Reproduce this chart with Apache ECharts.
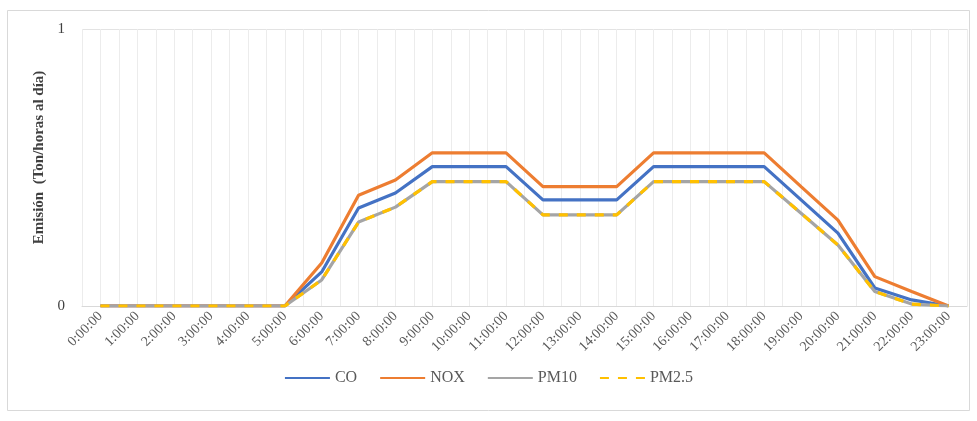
<!DOCTYPE html>
<html><head><meta charset="utf-8">
<script src="https://cdn.jsdelivr.net/npm/echarts@6/dist/echarts.min.js"></script>
<style>html,body{margin:0;padding:0;background:#fff}#c{width:977px;height:421px}</style>
</head><body><div id="c"></div>
<script>
var categories = ['0:00:00','1:00:00','2:00:00','3:00:00','4:00:00','5:00:00','6:00:00','7:00:00','8:00:00','9:00:00','10:00:00','11:00:00','12:00:00','13:00:00','14:00:00','15:00:00','16:00:00','17:00:00','18:00:00','19:00:00','20:00:00','21:00:00','22:00:00','23:00:00'];
var co   = [0,0,0,0,0,0,0.123,0.354,0.408,0.503,0.503,0.503,0.383,0.383,0.383,0.503,0.503,0.503,0.503,0.383,0.263,0.065,0.022,0];
var nox  = [0,0,0,0,0,0,0.155,0.400,0.455,0.553,0.553,0.553,0.431,0.431,0.431,0.553,0.553,0.553,0.553,0.431,0.310,0.106,0.052,0];
var pm10 = [0,0,0,0,0,0,0.094,0.303,0.357,0.449,0.449,0.449,0.329,0.329,0.329,0.449,0.449,0.449,0.449,0.335,0.220,0.052,0.007,0];
var pm25 = [0,0,0,0,0,0,0.094,0.303,0.357,0.449,0.449,0.449,0.329,0.329,0.329,0.449,0.449,0.449,0.449,0.335,0.220,0.052,0.007,0];
var yTicks = [0, 1];
var halfSteps = [];
for (var i = 0; i < categories.length * 2; i++) halfSteps.push(String(i));

var font = '"Liberation Serif", "Times New Roman", serif';
var chart = echarts.init(document.getElementById('c'));
function mk(name, data, color, type, z) {
  return {name: name, type: 'line', data: data, symbol: 'none', smooth: false, z: z,
    lineStyle: {color: color, width: 3.2, type: type}, itemStyle: {color: color}};
}
chart.setOption({
  animation: false,
  backgroundColor: '#fff',
  graphic: [{type: 'rect', shape: {x: 7.5, y: 10.5, width: 962, height: 400}, style: {fill: 'none', stroke: '#d9d9d9', lineWidth: 1}, silent: true}],
  grid: {left: 82, right: 10, top: 29, bottom: 115, containLabel: false},
  legend: {
    bottom: 30, left: 'center', itemWidth: 45, itemHeight: 14, itemGap: 22,
    itemStyle: {opacity: 0},
    textStyle: {fontFamily: font, fontSize: 16, color: '#595959'},
    data: ['CO', 'NOX', 'PM10', 'PM2.5']
  },
  xAxis: [{
    type: 'category', data: categories, boundaryGap: true,
    axisLine: {lineStyle: {color: '#d9d9d9', width: 1}},
    axisTick: {show: false},
    axisLabel: {rotate: 45, interval: 0, fontFamily: font, fontSize: 14, color: '#595959', margin: 8},
    splitLine: {show: false}
  }, {
    type: 'category', data: halfSteps, boundaryGap: true, position: 'bottom',
    axisLine: {show: false}, axisTick: {show: false}, axisLabel: {show: false},
    splitLine: {show: true, lineStyle: {color: '#ececec', width: 1}}
  }],
  yAxis: {
    type: 'value', min: yTicks[0], max: yTicks[yTicks.length - 1], interval: 1,
    name: 'Emisión  (Ton/horas al día)', nameLocation: 'middle', nameGap: 32,
    nameTextStyle: {fontFamily: font, fontSize: 15, fontWeight: 'bold', color: '#404040', padding: [0, 0, 0, 20]},
    axisLine: {show: false}, axisTick: {show: false},
    axisLabel: {fontFamily: font, fontSize: 15, color: '#404040', margin: 17},
    splitLine: {show: true, lineStyle: {color: '#e3e3e3', width: 1}}
  },
  series: [
    mk('CO', co, '#4472C4', 'solid', 3),
    mk('NOX', nox, '#ED7D31', 'solid', 4),
    mk('PM10', pm10, '#A5A5A5', 'solid', 5),
    mk('PM2.5', pm25, '#FFC000', [9, 9], 6)
  ]
});
</script></body></html>
